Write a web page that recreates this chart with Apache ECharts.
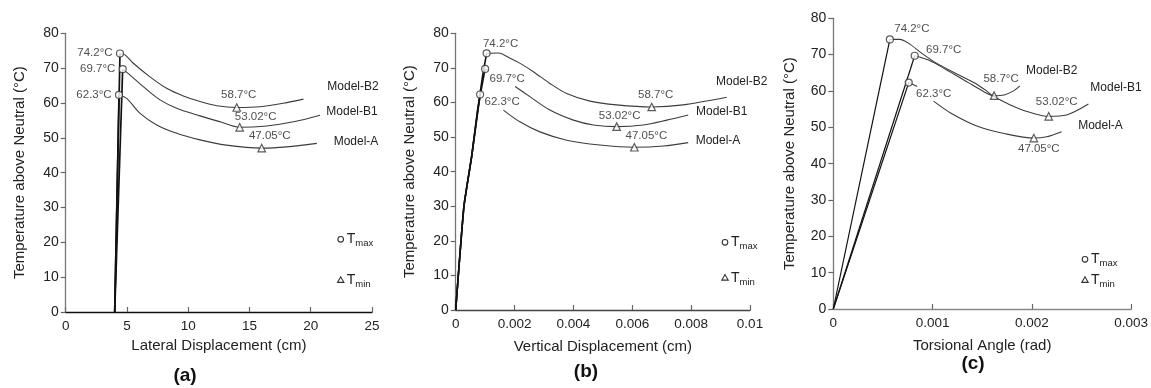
<!DOCTYPE html>
<html><head><meta charset="utf-8">
<script src="https://cdn.jsdelivr.net/npm/echarts@6/dist/echarts.min.js"></script>
<style>html,body{margin:0;padding:0;background:#fff}#c{width:1151px;height:388px}</style>
</head><body><div id="c"></div>
<script>
// ---------- DATA ----------
const yTicks = [0, 10, 20, 30, 40, 50, 60, 70, 80];
const modelNames = ['Model-B2', 'Model-B1', 'Model-A'];
const panelTags = ['(a)', '(b)', '(c)'];
const xTitles = ['Lateral Displacement (cm)', 'Vertical Displacement (cm)', 'Torsional Angle (rad)'];
const yTitle = 'Temperature above Neutral (°C)';
const tmaxLabels = ['74.2°C', '69.7°C', '62.3°C'];
const tminLabels = ['58.7°C', '53.02°C', '47.05°C'];

// Panel (a) lateral displacement (cm)
const aRiseB2 = [[4.0, 0], [4.43, 74.2]];
const aRiseB1 = [[4.0, 0], [4.65, 69.7]];
const aRiseA  = [[4.0, 0], [4.35, 62.3]];
const aCurveB2 = [[4.43, 74.2], [4.84, 73.8], [5.52, 71.4], [6.88, 67.5], [8.24, 64.2], [9.60, 62.0], [10.96, 60.4], [12.33, 59.2], [13.96, 58.7], [15.86, 58.9], [17.76, 59.9], [19.40, 61.1]];
const aCurveB1 = [[4.65, 69.7], [5.25, 68.0], [6.33, 64.7], [7.70, 60.9], [9.06, 58.5], [10.96, 56.3], [12.6, 54.6], [14.2, 53.02], [16.4, 53.4], [18.6, 54.6], [20.76, 56.5]];
const aCurveA  = [[4.35, 62.3], [4.98, 61.3], [6.07, 57.0], [7.43, 53.7], [9.06, 51.3], [10.96, 49.4], [13.1, 47.9], [16.0, 47.05], [18.04, 47.4], [20.5, 48.4]];
const aTmax = [[4.43, 74.2], [4.65, 69.7], [4.35, 62.3]];
const aTmin = [[13.96, 58.7], [14.2, 53.02], [16.0, 47.05]];

// Panel (b) vertical displacement (cm)
const bRiseB2 = [[0, 0], [0.00028, 30], [0.00054, 44.3], [0.00075, 58], [0.00092, 68], [0.00105, 74.2]];
const bRiseB1 = [[0, 0], [0.00028, 30], [0.00054, 44.3], [0.00075, 58], [0.001, 69.7]];
const bRiseA  = [[0, 0], [0.00028, 30], [0.00054, 44.3], [0.00083, 62.3]];
const bCurveB2 = [[0.00105, 74.2], [0.00145, 74.3], [0.00185, 72.8], [0.00219, 71.3], [0.00264, 68.9], [0.0032, 65.5], [0.00377, 62.6], [0.00456, 60.4], [0.00547, 59.3], [0.00666, 58.7], [0.00773, 59.3], [0.00921, 61.5]];
const bStubB1 = [[0.001, 69.7], [0.00111, 69.2]];
const bCurveB1 = [[0.00202, 64.6], [0.00252, 61.7], [0.0032, 57.8], [0.0040, 54.9], [0.00468, 53.5], [0.00547, 53.02], [0.00637, 53.5], [0.00717, 54.9], [0.0079, 56.4]];
const bCurveA  = [[0.00162, 57.8], [0.00218, 54.4], [0.00286, 51.5], [0.00377, 49.1], [0.0049, 47.7], [0.00607, 47.05], [0.00705, 47.4], [0.0079, 48.4]];
const bTmax = [[0.00105, 74.2], [0.001, 69.7], [0.00083, 62.3]];
const bTmin = [[0.00666, 58.7], [0.00547, 53.02], [0.00607, 47.05]];

// Panel (c) torsional angle (rad)
const cRiseB2 = [[0, 0], [0.00057, 74.2]];
const cRiseB1 = [[0, 0], [0.00082, 69.7]];
const cRiseA  = [[0, 0], [0.00076, 62.3]];
const cCurveB2 = [[0.00057, 74.2], [0.00067, 74.2], [0.00076, 73.1], [0.0009, 70.2], [0.00103, 67.8], [0.00123, 64.9], [0.00143, 62.1], [0.00153, 60.3], [0.00162, 58.7], [0.00172, 58.9], [0.00182, 60.1], [0.00188, 61.4]];
const cCurveB1 = [[0.00082, 69.7], [0.00096, 68.5], [0.00113, 66.0], [0.00136, 62.3], [0.00153, 59.6], [0.00163, 58.3], [0.00179, 56.1], [0.00196, 54.3], [0.00217, 53.02], [0.00235, 53.4], [0.00257, 56.4]];
const cStubA = [[0.00076, 62.3], [0.000845, 61.2]];
const cCurveA = [[0.00101, 57.2], [0.00119, 53.8], [0.00146, 50.2], [0.00172, 48.3], [0.00202, 47.05], [0.00215, 47.4], [0.0023, 48.8]];
const cTmax = [[0.00057, 74.2], [0.00082, 69.7], [0.00076, 62.3]];
const cTmin = [[0.00162, 58.7], [0.00217, 53.02], [0.00202, 47.05]];

// ---------- STYLE / LAYOUT ----------
const FONT = '"Liberation Sans", Arial, sans-serif';
const INK = '#222';
const grids = [
  {left: 65.7, top: 33.3, width: 306.3, height: 278.7},
  {left: 455.7, top: 33.3, width: 294.3, height: 276.7},
  {left: 833.3, top: 18.3, width: 301.7, height: 290.7}
];
const xRanges = [[0, 25, 5], [0, 0.01, 0.002], [0, 0.003, 0.001]];
const xNameGaps = [26, 29, 29];
const yNameGaps = [38, 38, 36];
const xAxisColors = ['#111', '#444', '#888'];
const yAxisColor = '#777';

// label offsets (text center relative to marker center), order B2, B1, A
const tmaxOff = [
  [[-25, -1], [-25, 0], [-25, 0]],
  [[14, -10], [22, 10], [22, 7]],
  [[22, -11], [29, -6], [25, 11]]
];
const tminOff = [
  [[2, -13], [16, -10], [8, -12]],
  [[4, -12], [3, -11], [12, -11]],
  [[7, -17], [8, -15], [5, 11]]
];
const modelPos = [
  [[353, 86.7], [352, 111.7], [356, 141.7]],
  [[741.7, 81.7], [721.7, 111.7], [718, 140.5]],
  [[1051.7, 70.7], [1116, 87.7], [1100.5, 126]]
];
const legendPos = [[340.7, 239.3, 280], [725, 242.3, 277.7], [1085, 259.3, 280]];
const tagPos = [[185, 376], [586, 372], [973, 364]];

const xAxes = [], yAxes = [], series = [], graphic = [];
for (let i = 0; i < 3; i++) {
  xAxes.push({
    type: 'value', gridIndex: i, min: xRanges[i][0], max: xRanges[i][1], interval: xRanges[i][2],
    name: xTitles[i], nameLocation: 'middle', nameGap: xNameGaps[i],
    nameTextStyle: {fontFamily: FONT, fontSize: 15, color: INK},
    axisLine: {lineStyle: {color: xAxisColors[i], width: 1.4}},
    axisTick: {inside: true, length: 5, lineStyle: {color: '#666', width: 1.2}},
    axisLabel: {fontFamily: FONT, fontSize: 13.5, color: INK, margin: 7},
    splitLine: {show: false}
  });
  yAxes.push({
    type: 'value', gridIndex: i, min: 0, max: 80, interval: 10,
    name: yTitle, nameLocation: 'middle', nameGap: yNameGaps[i], nameRotate: 90,
    nameTextStyle: {fontFamily: FONT, fontSize: 15, color: INK},
    axisLine: {show: true, lineStyle: {color: yAxisColor, width: 1.3}},
    axisTick: {show: true, inside: false, length: 5, lineStyle: {color: '#666', width: 1.2}},
    axisLabel: {fontFamily: FONT, fontSize: 14, color: INK, margin: 7,
      formatter: v => yTicks.includes(v) ? String(v) : ''},
    splitLine: {show: false}
  });
}

const riseStyle = [{color: '#111', width: 1.7}, {color: '#111', width: 1.6}, {color: '#111', width: 1.2}];
const curveStyle = {color: '#3c3c3c', width: 1.1};

function line(i, data, style, smooth) {
  series.push({type: 'line', xAxisIndex: i, yAxisIndex: i, data: data, showSymbol: false,
    symbol: 'none', smooth: smooth || false, connectNulls: false, silent: true,
    lineStyle: style, z: 2});
}
function markers(i, pts, labels, offs, sym) {
  series.push({type: 'scatter', xAxisIndex: i, yAxisIndex: i, symbol: sym, symbolSize: sym === 'circle' ? 7 : 7.5,
    itemStyle: {color: '#fff', borderColor: '#333', borderWidth: 1.2}, z: 5, silent: true,
    data: pts.map((p, k) => ({value: p, label: {show: true, position: 'inside', offset: offs[k],
      formatter: labels[k], color: INK, fontFamily: FONT, fontSize: 11.5, align: 'center', verticalAlign: 'middle'}}))
  });
}

const SM = 0.3;
// panel a
line(0, aRiseB2, riseStyle[0]); line(0, aRiseB1, riseStyle[0]); line(0, aRiseA, riseStyle[0]);
line(0, aCurveB2, curveStyle, SM); line(0, aCurveB1, curveStyle, SM); line(0, aCurveA, curveStyle, SM);
markers(0, aTmax, tmaxLabels, tmaxOff[0], 'circle');
markers(0, aTmin, tminLabels, tminOff[0], 'triangle');
// panel b
line(1, bRiseB2, riseStyle[1], 0.15); line(1, bRiseB1, riseStyle[1], 0.15); line(1, bRiseA, riseStyle[1], 0.15);
line(1, bCurveB2, curveStyle, SM); line(1, bStubB1, curveStyle); line(1, bCurveB1, curveStyle, SM); line(1, bCurveA, curveStyle, SM);
markers(1, bTmax, tmaxLabels, tmaxOff[1], 'circle');
markers(1, bTmin, tminLabels, tminOff[1], 'triangle');
// panel c
line(2, cRiseB2, riseStyle[2]); line(2, cRiseB1, riseStyle[2]); line(2, cRiseA, riseStyle[2]);
line(2, cCurveB2, curveStyle, SM); line(2, cCurveB1, curveStyle, SM); line(2, cStubA, curveStyle); line(2, cCurveA, curveStyle, SM);
markers(2, cTmax, tmaxLabels, tmaxOff[2], 'circle');
markers(2, cTmin, tminLabels, tminOff[2], 'triangle');

for (let i = 0; i < 3; i++) {
  modelNames.forEach((m, k) => {
    graphic.push({type: 'text', x: modelPos[i][k][0], y: modelPos[i][k][1], silent: true,
      style: {text: m, fill: INK, font: '12px ' + FONT, align: 'center', verticalAlign: 'middle'}});
  });
  const [lx, ly1, ly2] = legendPos[i];
  graphic.push({type: 'circle', shape: {cx: lx, cy: ly1, r: 2.8}, style: {fill: '#fff', stroke: '#333', lineWidth: 1.1}, silent: true});
  graphic.push({type: 'polygon', shape: {points: [[lx, ly2 - 3.2], [lx - 3.2, ly2 + 2.4], [lx + 3.2, ly2 + 2.4]]}, style: {fill: '#fff', stroke: '#333', lineWidth: 1.1}, silent: true});
  graphic.push({type: 'text', x: lx + 6, y: ly1, silent: true,
    style: {text: '{t|T}{s|max}', verticalAlign: 'middle', fill: INK,
      rich: {t: {fontFamily: FONT, fontSize: 14, fill: INK, lineHeight: 18}, s: {fontFamily: FONT, fontSize: 9.5, fill: INK, padding: [9, 0, 0, 0], lineHeight: 18}}}});
  graphic.push({type: 'text', x: lx + 6, y: ly2, silent: true,
    style: {text: '{t|T}{s|min}', verticalAlign: 'middle', fill: INK,
      rich: {t: {fontFamily: FONT, fontSize: 14, fill: INK, lineHeight: 18}, s: {fontFamily: FONT, fontSize: 9.5, fill: INK, padding: [9, 0, 0, 0], lineHeight: 18}}}});
  graphic.push({type: 'text', x: tagPos[i][0], y: tagPos[i][1], silent: true,
    style: {text: panelTags[i], fill: '#111', font: 'bold 19px ' + FONT, align: 'center', verticalAlign: 'middle'}});
}

const chart = echarts.init(document.getElementById('c'), null, {renderer: 'canvas'});
chart.setOption({
  animation: false,
  backgroundColor: '#fff',
  grid: grids,
  xAxis: xAxes,
  yAxis: yAxes,
  series: series,
  graphic: graphic
});
</script></body></html>
